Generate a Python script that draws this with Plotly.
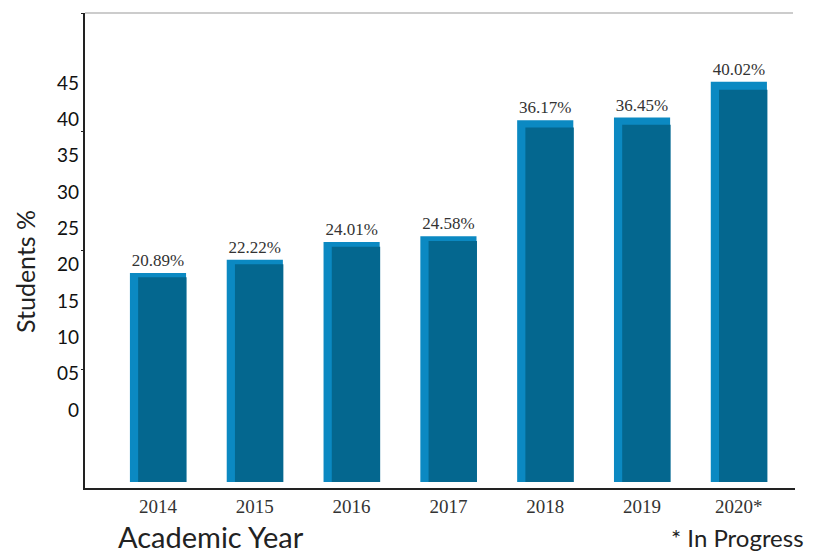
import plotly.graph_objects as go

years = [2014, 2015, 2016, 2017, 2018, 2019, 2020]
year_labels = ["2014", "2015", "2016", "2017", "2018", "2019", "2020*"]
students_pct = [20.89, 22.22, 24.01, 24.58, 36.17, 36.45, 40.02]
value_labels = ["20.89%", "22.22%", "24.01%", "24.58%", "36.17%", "36.45%", "40.02%"]
ytick_vals = [0, 5, 10, 15, 20, 25, 30, 35, 40, 45]
ytick_text = ["0", "05", "10", "15", "20", "25", "30", "35", "40", "45"]

LIGHT = "#0b89c2"
DARK = "#04678f"

fig = go.Figure()

# side/top face (light) bars
fig.add_trace(go.Bar(
    x=years, y=students_pct, yaxis="y",
    width=0.58, offset=-0.29,
    marker=dict(color=LIGHT, line=dict(width=0)),
    text=value_labels, textposition="outside", constraintext="none",
    textfont=dict(family="Liberation Serif", size=17, color="#333333"),
    cliponaxis=False, showlegend=False, hoverinfo="skip",
))
# front face (dark) bars
fig.add_trace(go.Bar(
    x=years, y=students_pct, yaxis="y4",
    width=0.50, offset=-0.205,
    marker=dict(color=DARK, line=dict(width=0)),
    showlegend=False, hoverinfo="skip",
))
# invisible traces to anchor the extra axes
fig.add_trace(go.Scatter(x=[years[0]], y=[ytick_vals[0]], yaxis="y2",
                         mode="markers", marker=dict(opacity=0),
                         showlegend=False, hoverinfo="skip"))
fig.add_trace(go.Scatter(x=[years[0]], y=[0], yaxis="y3",
                         mode="markers", marker=dict(opacity=0),
                         showlegend=False, hoverinfo="skip"))

s_light = 10.0
s_dark = 9.8
plot_h = 475
plot_w = 710

fig.update_layout(
    width=806, height=544,
    margin=dict(l=77, r=19, t=5, b=64),
    paper_bgcolor="white", plot_bgcolor="white",
    barmode="overlay",
    xaxis=dict(
        range=[2013.246, 2020.58],
        tickvals=years, ticktext=year_labels,
        tickfont=dict(family="Liberation Serif", size=19, color="#333333"),
        showline=True, linecolor="#222222", linewidth=1.5,
        showgrid=False, zeroline=False, ticks="",
    ),
    yaxis=dict(
        range=[-6 / s_light, -6 / s_light + plot_h / s_light],
        showline=True, linecolor="#222222", linewidth=1.5,
        showgrid=False, zeroline=False, showticklabels=False, ticks="",
    ),
    yaxis4=dict(
        range=[-6 / s_dark, -6 / s_dark + plot_h / s_dark],
        overlaying="y", visible=False,
    ),
    yaxis2=dict(
        range=[-10.734, 54.633], overlaying="y", side="left",
        tickvals=ytick_vals, ticktext=ytick_text,
        tickfont=dict(family="Lato", size=19, color="#111111"),
        showline=False, showgrid=False, zeroline=False, ticks="",
        ticklabelstandoff=5,
    ),
    yaxis3=dict(
        range=[0, 4], overlaying="y", side="left",
        tickvals=[1, 2, 3, 4], showticklabels=False,
        ticks="outside", ticklen=3, tickcolor="#222222", tickwidth=1,
        showline=False, showgrid=False, zeroline=False,
    ),
    shapes=[dict(type="line", xref="paper", yref="paper",
                 x0=0, x1=(793 - 85) / plot_w, y0=1, y1=1,
                 line=dict(color="#cccccc", width=2))],
    annotations=[
        dict(text="Students %", xref="paper", yref="paper",
             x=(25 - 85) / plot_w, y=(488 - 272) / plot_h, textangle=-90,
             xanchor="center", yanchor="middle", showarrow=False,
             font=dict(family="Lato", size=25, color="#222222")),
        dict(text="Academic Year", xref="paper", yref="paper",
             x=(211 - 85) / plot_w, y=(488 - 517) / plot_h,
             xanchor="center", yanchor="top", showarrow=False,
             font=dict(family="Lato", size=29, color="#222222")),
        dict(text="* In Progress", xref="paper", yref="paper",
             x=(806 - 85) / plot_w, y=(488 - 537) / plot_h,
             xanchor="right", yanchor="middle", showarrow=False,
             font=dict(family="Lato", size=24, color="#222222")),
    ],
)

fig.write_html("out.html")
